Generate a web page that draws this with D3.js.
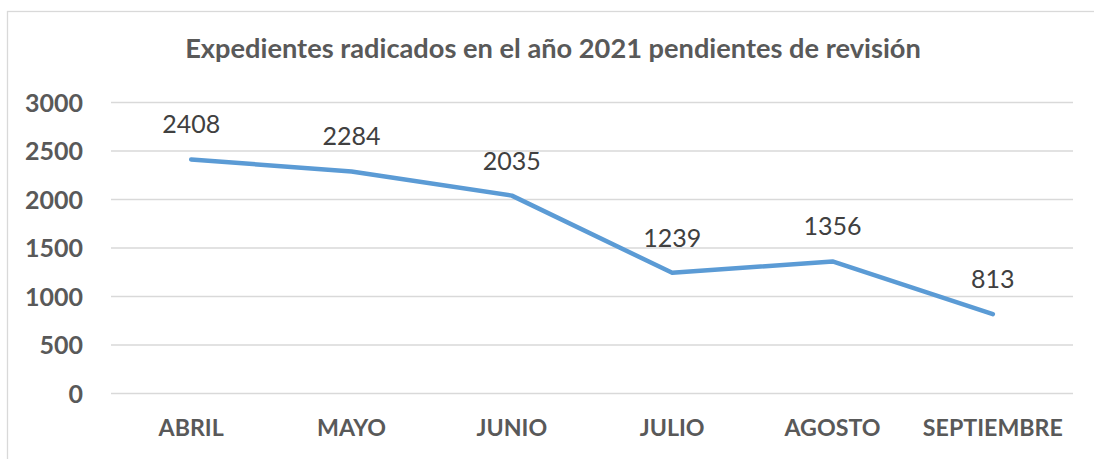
<!DOCTYPE html>
<html><head><meta charset="utf-8">
<script src="https://cdn.jsdelivr.net/npm/d3@7"></script>
<style>body{margin:0;background:#fff}svg{display:block}</style>
</head><body>
<script>
const categories = ["ABRIL","MAYO","JUNIO","JULIO","AGOSTO","SEPTIEMBRE"];
const values = [2408,2284,2035,1239,1356,813];
const yTicks = [0,500,1000,1500,2000,2500,3000];
const title = "Expedientes radicados en el año 2021 pendientes de revisión";

const W = 1094, H = 459;
const FONT = "Lato, 'Open Sans', sans-serif";
const svg = d3.select("body").append("svg").attr("width", W).attr("height", H);

// font size that makes `txt` span `target` px
function fit(txt, weight, target) {
  const t = svg.append("text").attr("font-family", FONT).attr("font-weight", weight)
    .attr("font-size", 100).text(txt);
  const w = t.node().getComputedTextLength();
  t.remove();
  return 100 * target / w;
}
const fsY = fit("3000", "bold", 58);
const fsX = fit("SEPTIEMBRE", "bold", 140);
const fsL = fit("2408", "normal", 58);
const fsT = fit(title, "bold", 736);

svg.append("rect").attr("x", 7.5).attr("y", 11.5).attr("width", W).attr("height", H)
  .attr("fill", "#fff").attr("stroke", "#d9d9d9").attr("stroke-width", 1.3);

const x = d3.scaleBand().domain(categories).range([111, 1073]);
const y = d3.scaleLinear().domain([0, 3000]).range([393, 102]);

const yAxis = d3.axisLeft(y).tickValues(yTicks).tickFormat(d3.format("d"))
  .tickSize(-(1073-111)).tickPadding(28);
const gy = svg.append("g").attr("transform", "translate(111,0)").call(yAxis);
gy.select(".domain").remove();
gy.selectAll(".tick line").attr("stroke", "#d9d9d9").attr("stroke-width", 1.5);
gy.selectAll(".tick text").attr("fill", "#595959").attr("font-family", FONT)
  .attr("font-weight", "bold").attr("font-size", fsY).attr("dy", "0.36em");

const xAxis = d3.axisBottom(x).tickSize(0).tickPadding(0);
const gx = svg.append("g").attr("transform", "translate(0,393)").call(xAxis);
gx.select(".domain").remove();
gx.selectAll(".tick text").attr("fill", "#595959").attr("font-family", FONT)
  .attr("font-weight", "bold").attr("font-size", fsX).attr("dy", 0).attr("y", 43);

const line = d3.line().x((d,i) => x(categories[i]) + x.bandwidth()/2).y(d => y(d));
svg.append("path").datum(values).attr("d", line).attr("fill", "none")
  .attr("stroke", "#5B9BD5").attr("stroke-width", 4.5)
  .attr("stroke-linecap", "round").attr("stroke-linejoin", "round");

svg.selectAll(".lbl").data(values).enter().append("text").attr("class", "lbl")
  .attr("x", (d,i) => x(categories[i]) + x.bandwidth()/2)
  .attr("y", d => y(d) - 26)
  .attr("text-anchor", "middle").attr("fill", "#404040")
  .attr("font-family", FONT).attr("font-size", fsL).text(d => d);

svg.append("text").attr("x", 553).attr("y", 58).attr("text-anchor", "middle")
  .attr("fill", "#595959").attr("font-family", FONT).attr("font-weight", "bold")
  .attr("font-size", fsT).text(title);
</script>
</body></html>
